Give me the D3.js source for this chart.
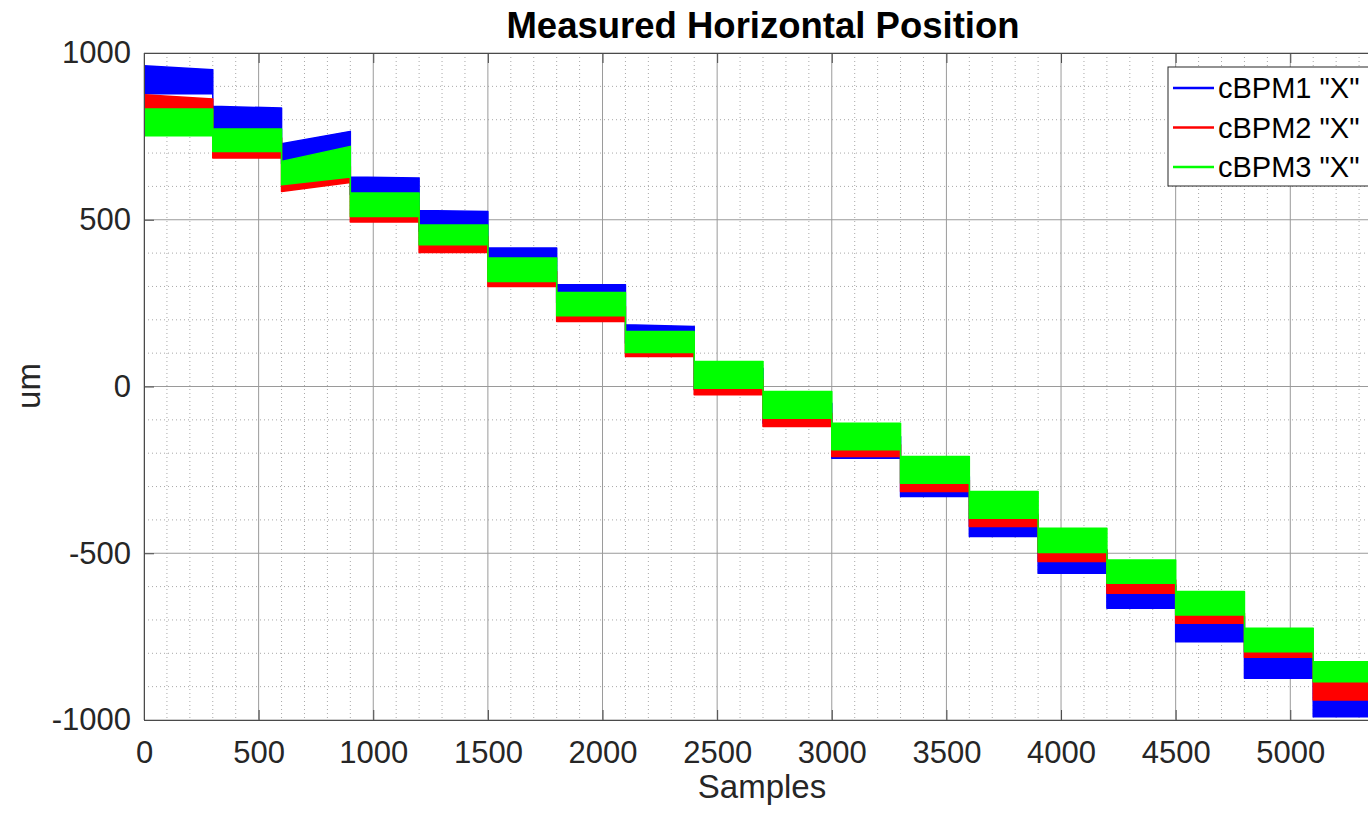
<!DOCTYPE html>
<html>
<head>
<meta charset="utf-8">
<script src="https://cdn.jsdelivr.net/npm/d3@7"></script>
<style>
  body { margin: 0; background: #fff; }
  svg { display: block; font-family: "Liberation Sans", Arial, sans-serif; }
</style>
</head>
<body>
<div id="chart"></div>
<script>
// Measured horizontal position, three cBPMs, 18 steps of 300 samples
const stepStarts = [0, 300, 600, 900, 1200, 1500, 1800, 2100, 2400, 2700, 3000, 3300, 3600, 3900, 4200, 4500, 4800, 5100]
const stepLength = 300

// noise envelope per step: [low at start, low at end] / [high at start, high at end]
const blueLo = [[878, 878], [768, 768], [668, 698], [575, 575], [465, 465], [355, 355], [250, 250], [130, 130], [-10, -10], [-110, -110], [-215, -215], [-330, -330], [-450, -450], [-560, -560], [-665, -665], [-765, -765], [-875, -875], [-990, -990]]
const blueHi = [[962, 950], [840, 835], [728, 765], [628, 625], [528, 525], [415, 415], [305, 305], [185, 180], [55, 55], [-50, -50], [-150, -150], [-270, -270], [-385, -385], [-490, -490], [-595, -595], [-690, -690], [-800, -800], [-910, -910]]

const redLo = [[815, 815], [685, 685], [585, 612], [493, 493], [402, 402], [300, 300], [195, 195], [90, 90], [-25, -25], [-120, -120], [-210, -210], [-315, -315], [-420, -420], [-525, -525], [-620, -620], [-710, -710], [-812, -812], [-940, -940]]
const redHi = [[875, 862], [745, 745], [640, 660], [540, 540], [450, 450], [345, 345], [240, 240], [135, 135], [20, 20], [-80, -80], [-175, -175], [-280, -280], [-385, -385], [-490, -490], [-580, -580], [-680, -680], [-785, -785], [-885, -885]]

const greenLo = [[752, 752], [705, 705], [605, 628], [510, 510], [425, 425], [315, 315], [212, 212], [102, 102], [-5, -5], [-95, -95], [-190, -190], [-290, -290], [-395, -395], [-498, -498], [-590, -590], [-685, -685], [-795, -795], [-885, -885]]
const greenHi = [[832, 832], [772, 772], [675, 720], [580, 580], [484, 484], [385, 385], [282, 282], [165, 165], [75, 75], [-15, -15], [-110, -110], [-210, -210], [-315, -315], [-425, -425], [-520, -520], [-615, -615], [-725, -725], [-825, -825]]

const seriesNames = ['cBPM1 "X"', 'cBPM2 "X"', 'cBPM3 "X"']
const seriesColors = ["#0000ff", "#ff0000", "#00ff00"]

const xTicks = [0, 500, 1000, 1500, 2000, 2500, 3000, 3500, 4000, 4500, 5000]
const yTicks = [-1000, -500, 0, 500, 1000]

const width = 1368
const height = 819
const plot = { left: 144, right: 1382, top: 53, bottom: 720 }

const svg = d3.select("#chart").append("svg")
  .attr("width", width)
  .attr("height", height)

const x = d3.scaleLinear().domain([0, 5400]).range([plot.left, plot.right])
const y = d3.scaleLinear().domain([-1000, 1000]).range([plot.bottom, plot.top])

svg.append("clipPath").attr("id", "plotClip")
  .append("rect")
  .attr("x", plot.left).attr("y", plot.top)
  .attr("width", plot.right - plot.left).attr("height", plot.bottom - plot.top)

// Grid lines (minor dotted, major solid)
const grid = svg.append("g")
const minorX = d3.range(0, 5401, 100).filter(v => v % 500 !== 0)
const minorY = d3.range(-1000, 1001, 100).filter(v => v % 500 !== 0)

grid.selectAll(".minor-x").data(minorX).enter().append("line")
  .attr("x1", d => x(d)).attr("x2", d => x(d))
  .attr("y1", plot.top).attr("y2", plot.bottom)
  .attr("stroke", "#a8a8a8").attr("stroke-width", 1)
  .attr("stroke-dasharray", "1,3")

grid.selectAll(".minor-y").data(minorY).enter().append("line")
  .attr("x1", plot.left).attr("x2", plot.right)
  .attr("y1", d => y(d)).attr("y2", d => y(d))
  .attr("stroke", "#a8a8a8").attr("stroke-width", 1)
  .attr("stroke-dasharray", "1,3")

grid.selectAll(".major-x").data(xTicks.concat([5400])).enter().append("line")
  .attr("x1", d => x(d)).attr("x2", d => x(d))
  .attr("y1", plot.top).attr("y2", plot.bottom)
  .attr("stroke", "#9a9a9a").attr("stroke-width", 1)

grid.selectAll(".major-y").data(yTicks).enter().append("line")
  .attr("x1", plot.left).attr("x2", plot.right)
  .attr("y1", d => y(d)).attr("y2", d => y(d))
  .attr("stroke", "#9a9a9a").attr("stroke-width", 1)

// Build band points for each series
function bandPoints(lo, hi) {
  const pts = []
  stepStarts.forEach((s, i) => {
    pts.push({ x: s, lo: lo[i][0], hi: hi[i][0] })
    pts.push({ x: s + stepLength, lo: lo[i][1], hi: hi[i][1] })
  })
  return pts
}

const series = [
  { name: seriesNames[0], color: seriesColors[0], pts: bandPoints(blueLo, blueHi) },
  { name: seriesNames[1], color: seriesColors[1], pts: bandPoints(redLo, redHi) },
  { name: seriesNames[2], color: seriesColors[2], pts: bandPoints(greenLo, greenHi) }
]

const area = d3.area()
  .x(d => x(d.x))
  .y0(d => y(d.lo))
  .y1(d => y(d.hi))

const dataG = svg.append("g").attr("clip-path", "url(#plotClip)")
series.forEach(s => {
  dataG.append("path")
    .datum(s.pts)
    .attr("d", area)
    .attr("fill", s.color)
    .attr("stroke", s.color)
    .attr("stroke-width", 1.5)
    .attr("stroke-linejoin", "round")
})

// Axes, MATLAB-like ticks pointing inward
const axisColor = "#4a4a4a"
const labelColor = "#262626"
const fmt = d => String(d)

const xAxis = svg.append("g")
  .attr("transform", `translate(0,${plot.bottom})`)
  .call(d3.axisBottom(x).tickValues(xTicks).tickFormat(fmt).tickSize(-10).tickSizeOuter(0).tickPadding(21))
xAxis.selectAll("text").style("font-size", "31px").attr("fill", labelColor)

svg.append("g")
  .attr("transform", `translate(0,${plot.top})`)
  .call(d3.axisTop(x).tickValues(xTicks).tickSize(-10).tickSizeOuter(0).tickFormat(""))

const yAxis = svg.append("g")
  .attr("transform", `translate(${plot.left},0)`)
  .call(d3.axisLeft(y).tickValues(yTicks).tickFormat(fmt).tickSize(-10).tickSizeOuter(0).tickPadding(13))
yAxis.selectAll("text").style("font-size", "31px").attr("fill", labelColor)

svg.selectAll(".domain").attr("stroke", axisColor)
svg.selectAll(".tick line").attr("stroke", axisColor)

// Axis labels and title
svg.append("text")
  .attr("x", 762).attr("y", 798)
  .attr("text-anchor", "middle")
  .style("font-size", "33px")
  .attr("fill", labelColor)
  .text("Samples")

svg.append("text")
  .attr("transform", "translate(40,386) rotate(-90)")
  .attr("text-anchor", "middle")
  .style("font-size", "33px")
  .attr("fill", labelColor)
  .text("um")

svg.append("text")
  .attr("x", 763).attr("y", 38)
  .attr("text-anchor", "middle")
  .style("font-size", "36.5px")
  .style("font-weight", "bold")
  .attr("fill", "#000")
  .text("Measured Horizontal Position")

// Legend
const legend = svg.append("g").attr("transform", "translate(1168,67)")
legend.append("rect")
  .attr("width", 214).attr("height", 119)
  .attr("fill", "#fff")
  .attr("stroke", "#262626").attr("stroke-width", 1)

series.forEach((s, i) => {
  const row = legend.append("g").attr("transform", `translate(0,${21 + i * 39.5})`)
  row.append("line")
    .attr("x1", 5).attr("x2", 46)
    .attr("stroke", s.color).attr("stroke-width", 2.5)
  row.append("text")
    .attr("x", 50).attr("dy", "0.35em")
    .style("font-size", "29px")
    .attr("fill", "#000")
    .text(s.name)
})
</script>
</body>
</html>
